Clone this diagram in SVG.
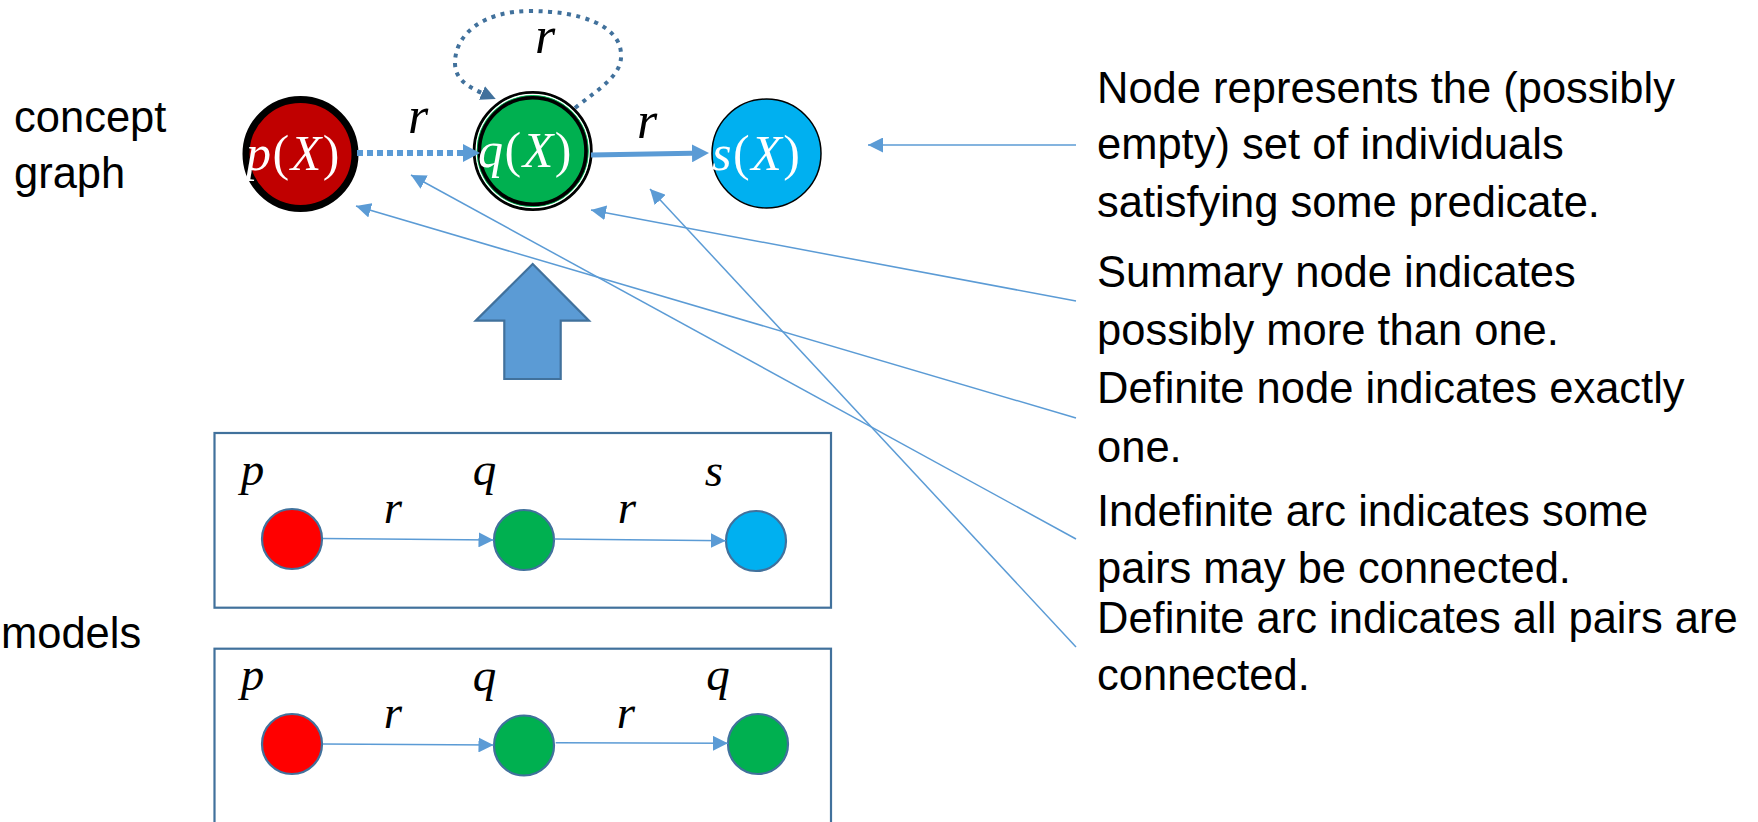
<svg xmlns="http://www.w3.org/2000/svg" width="1758" height="822" viewBox="0 0 1758 822">
  <style>
    .lbl { font-family: "Liberation Sans", Arial, sans-serif; font-size: 43.5px; fill: #000; }
    .math { font-family: "Liberation Serif", "Times New Roman", serif; font-style: italic; }
    .up { font-style: normal; }
    .nodetxt { font-size: 50px; fill: #fff; letter-spacing: 1.5px; }
    .rel { font-size: 52px; fill: #000; text-anchor: middle; }
    .mlbl { font-size: 47px; fill: #000; text-anchor: middle; }
    .note { stroke: #5B9BD5; stroke-width: 1.5; fill: none; marker-end: url(#ah-thin); }
    .marc { stroke: #5B9BD5; stroke-width: 1.5; fill: none; marker-end: url(#ah-thin); }
    .box { fill: none; stroke: #41719C; stroke-width: 2.2; }
    .mnode { stroke: #41719C; stroke-width: 2.2; }
  </style>
  <defs>
    <marker id="ah-thin" markerUnits="userSpaceOnUse" markerWidth="15" markerHeight="15" viewBox="0 0 15 15" refX="15" refY="7.5" orient="auto">
      <path d="M0,0 L15,7.5 L0,15 z" fill="#5B9BD5"/>
    </marker>
    <marker id="ah-thick" markerUnits="userSpaceOnUse" markerWidth="17" markerHeight="18" viewBox="0 0 17 18" refX="0" refY="9" orient="auto">
      <path d="M0,0 L17,9 L0,18 z" fill="#5B9BD5"/>
    </marker>
    <marker id="ah-loop" markerUnits="userSpaceOnUse" markerWidth="15" markerHeight="15" viewBox="0 0 15 15" refX="0" refY="7.5" orient="auto">
      <path d="M0,0 L15,7.5 L0,15 z" fill="#41719C"/>
    </marker>
  </defs>

  <rect width="1758" height="822" fill="#fff"/>

  <!-- side headings -->
  <g id="heading-concept">
    <text class="lbl" x="14" y="132">concept</text>
    <text class="lbl" x="14" y="188">graph</text>
  </g>
  <g id="heading-models">
    <text class="lbl" x="1" y="648">models</text>
  </g>

  <!-- concept graph nodes -->
  <g id="node-p">
    <circle cx="300.5" cy="154" r="54.5" fill="#C00000" stroke="#000" stroke-width="7"/>
    <text class="math nodetxt" x="246" y="170">p<tspan class="up">(</tspan>X<tspan class="up">)</tspan></text>
  </g>
  <g id="node-q">
    <circle cx="532.7" cy="151" r="58.5" fill="#00B050" stroke="#000" stroke-width="3"/>
    <circle cx="532.7" cy="151" r="56.5" fill="none" stroke="#fff" stroke-width="1.3"/>
    <circle cx="532.7" cy="151" r="55.5" fill="none" stroke="#00B050" stroke-width="1"/>
    <circle cx="532.7" cy="151" r="53.3" fill="none" stroke="#000" stroke-width="3.6"/>
    <text class="math nodetxt" x="478" y="167">q<tspan class="up">(</tspan>X<tspan class="up">)</tspan></text>
  </g>
  <g id="node-s">
    <circle cx="766.5" cy="153.5" r="54.5" fill="#00B0F0" stroke="#000" stroke-width="1.5"/>
    <text class="math nodetxt" x="712" y="170">s<tspan class="up">(</tspan>X<tspan class="up">)</tspan></text>
  </g>

  <!-- upward block arrow from models to concept graph -->
  <g id="abstraction-arrow">
    <polygon points="532.7,264 589,320.7 560.7,320.7 560.7,379 504.3,379 504.3,320.7 475.7,320.7" fill="#5B9BD5" stroke="#41719C" stroke-width="2.2" stroke-linejoin="miter"/>
  </g>

  <!-- model boxes -->
  <g id="model-1">
    <rect class="box" x="214.5" y="433" width="616.5" height="174.7"/>
    <circle class="mnode" cx="292" cy="539" r="30" fill="#FF0000"/>
    <circle class="mnode" cx="524" cy="540" r="30" fill="#00B050"/>
    <circle class="mnode" cx="756" cy="541" r="30" fill="#00B0F0"/>
    <text class="math mlbl" x="252.5" y="485">p</text>
    <text class="math mlbl" x="484.5" y="485">q</text>
    <text class="math mlbl" x="714" y="486">s</text>
    <text class="math mlbl" x="393" y="523">r</text>
    <text class="math mlbl" x="627" y="523">r</text>
  </g>
  <g id="model-2">
    <rect class="box" x="214.5" y="648.7" width="616.5" height="190"/>
    <circle class="mnode" cx="292" cy="744" r="30" fill="#FF0000"/>
    <circle class="mnode" cx="524" cy="745.5" r="30" fill="#00B050"/>
    <circle class="mnode" cx="758" cy="744" r="30" fill="#00B050"/>
    <text class="math mlbl" x="252.5" y="690">p</text>
    <text class="math mlbl" x="484.5" y="691">q</text>
    <text class="math mlbl" x="718" y="690">q</text>
    <text class="math mlbl" x="393" y="728">r</text>
    <text class="math mlbl" x="626" y="728">r</text>
  </g>

  <!-- explanatory text -->
  <g id="notes">
    <text class="lbl" x="1097" y="103">Node represents the (possibly</text>
    <text class="lbl" x="1097" y="159">empty) set of individuals</text>
    <text class="lbl" x="1097" y="217">satisfying some predicate.</text>
    <text class="lbl" x="1097" y="287">Summary node indicates</text>
    <text class="lbl" x="1097" y="345">possibly more than one.</text>
    <text class="lbl" x="1097" y="403">Definite node indicates exactly</text>
    <text class="lbl" x="1097" y="462">one.</text>
    <text class="lbl" x="1097" y="526">Indefinite arc indicates some</text>
    <text class="lbl" x="1097" y="583">pairs may be connected.</text>
    <text class="lbl" x="1097" y="633">Definite arc indicates all pairs are</text>
    <text class="lbl" x="1097" y="690">connected.</text>
  </g>

  <!-- connectors -->
  <g id="connectors">
    <!-- concept graph arcs -->
    <line x1="357" y1="153" x2="463" y2="153" stroke="#5B9BD5" stroke-width="6" stroke-dasharray="6 4" marker-end="url(#ah-thick)"/>
    <line x1="591" y1="155" x2="692" y2="153.3" stroke="#5B9BD5" stroke-width="5" marker-end="url(#ah-thick)"/>
    <path d="M575,108 C600,88 623,75 621,53 C619,25 580,11 530,11 C482,11 455,35 455,63 C455,78 466,86 482,93" fill="none" stroke="#41719C" stroke-width="4" stroke-dasharray="4 5.5" marker-end="url(#ah-loop)"/>
    <text class="math rel" x="418" y="133">r</text>
    <text class="math rel" x="647" y="138">r</text>
    <text class="math rel" x="545" y="53">r</text>

    <!-- model arcs -->
    <line class="marc" x1="323" y1="538.5" x2="493.5" y2="540"/>
    <line class="marc" x1="554.5" y1="539" x2="725.7" y2="540.7"/>
    <line class="marc" x1="323" y1="744" x2="493.5" y2="745"/>
    <line class="marc" x1="555.7" y1="742.7" x2="727.8" y2="743.3"/>

    <!-- note pointers -->
    <line class="note" x1="1076" y1="145" x2="868" y2="145"/>
    <line class="note" x1="1076" y1="301" x2="591" y2="210"/>
    <line class="note" x1="1076" y1="418" x2="356" y2="206"/>
    <line class="note" x1="1076" y1="539" x2="411" y2="175"/>
    <line class="note" x1="1076" y1="647" x2="650" y2="189"/>
  </g>
</svg>
